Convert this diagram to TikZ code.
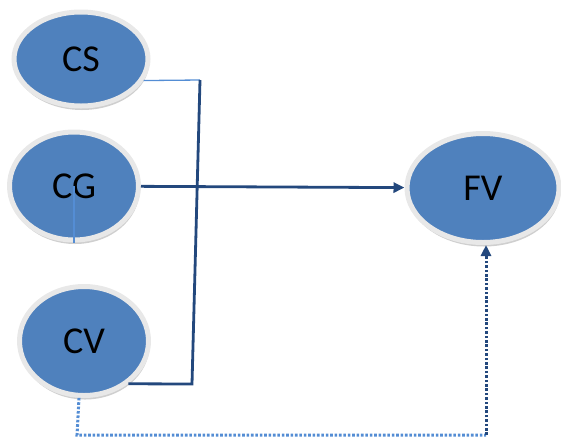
\documentclass[tikz,border=0pt]{standalone}
\usepackage{fontspec}
\setmainfont{Carlito}
\usetikzlibrary{shapes.geometric}
\usetikzlibrary{arrows.meta}
\usetikzlibrary{shadows}

\definecolor{varblue}{RGB}{79,129,189}
\definecolor{linkdark}{RGB}{35,72,125}
\definecolor{linklight}{RGB}{84,141,212}

\tikzset{
    var/.style={ellipse, fill=varblue, draw=gray!18, line width=5pt,
        drop shadow={shadow xshift=1pt, shadow yshift=-4pt, fill=gray!75},
        font=\fontsize{38}{44}\selectfont, inner sep=0pt},
    link/.style={draw=linkdark, line width=2.8pt},
    thinlink/.style={draw=linklight, line width=1.3pt},
    dotlink/.style={line width=3pt, dash pattern=on 2.6pt off 1.8pt},
    tip/.style={-{Triangle[length=11pt,width=10pt]}}
}

\begin{document}
\begin{tikzpicture}[x=1pt, y=-1pt]
    \useasboundingbox (0,0) rectangle (561,437);

    \node[var, minimum width=134pt, minimum height=94pt]  (cs) at (81, 59)   {CS};
    \node[var, minimum width=129pt, minimum height=108pt] (cg) at (74, 186)  {CG};
    \node[var, minimum width=129pt, minimum height=109pt] (cv) at (84, 341)  {CV};
    \node[var, minimum width=152pt, minimum height=109pt] (fv) at (483, 188) {FV};

    \coordinate (jt) at (200, 80);
    \coordinate (jb) at (192, 384);
    \coordinate (dl) at (77, 435);
    \coordinate (dr) at (486, 435);

    % bracket joining CS and CV
    \draw[thinlink] (cs.-19) -- (jt);
    \draw[link] (cv.-44) -- (jb) -- (jt);
    \draw[thinlink] (cg.center) -- (cg.south);

    % effects on FV
    \draw[link, tip] (cg) -- (fv);
    \draw[dotlink, draw=linklight] (cv.265) -- (dl) -- (dr);
    \draw[dotlink, draw=linkdark, tip] (dr) -- (dr |- fv.south);
\end{tikzpicture}
\end{document}
